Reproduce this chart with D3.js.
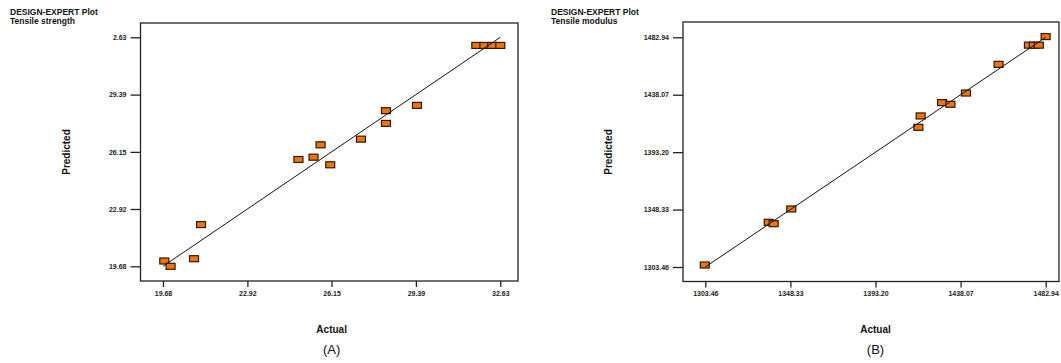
<!DOCTYPE html>
<html>
<head>
<meta charset="utf-8">
<script src="https://cdn.jsdelivr.net/npm/d3@7"></script>
<style>
  body { margin: 0; background: #fff; }
  svg { display: block; font-family: "Liberation Sans", Arial, sans-serif; }
</style>
</head>
<body>
<div id="chart"></div>
<script>
// Panel A - tensile strength
var strengthTicks = [19.68, 22.92, 26.15, 29.39, 32.63];
var strengthTickLabelsY = ["19.68", "22.92", "26.15", "29.39", "2.63"];
var strengthActual = [19.73, 19.97, 20.87, 21.14, 24.88, 25.46, 25.73, 26.10, 27.28, 28.24, 28.24, 29.43, 31.71, 32.02, 32.32, 32.63];
var strengthPredicted = [19.98, 19.68, 20.11, 22.04, 25.72, 25.85, 26.55, 25.42, 26.87, 27.76, 28.48, 28.78, 32.17, 32.17, 32.17, 32.17];

// Panel B - tensile modulus
var modulusTicks = [1303.46, 1348.33, 1393.20, 1438.07, 1482.94];
var modulusTickLabelsY = ["1303.46", "1348.33", "1393.20", "1438.07", "1482.94"];
var modulusActual = [1303.2, 1336.9, 1339.5, 1348.8, 1415.8, 1417.0, 1428.3, 1432.7, 1440.9, 1458.1, 1474.1, 1476.7, 1479.3, 1482.9];
var modulusPredicted = [1305.0, 1338.4, 1337.3, 1348.8, 1412.6, 1421.5, 1431.9, 1430.6, 1439.4, 1461.8, 1476.8, 1476.8, 1476.8, 1483.5];

var svg = d3.select("#chart").append("svg")
    .attr("width", 1061)
    .attr("height", 363);

function drawPanel(p) {
    var g = svg.append("g");

    var xScale = d3.scaleLinear().domain(p.domain).range(p.xRange);
    var yScale = d3.scaleLinear().domain(p.domain).range(p.yRange);

    // header
    g.append("text").attr("x", p.headX).attr("y", 15)
        .attr("font-size", "8.5px").attr("font-weight", "bold").attr("fill", "#111")
        .text("DESIGN-EXPERT Plot");
    g.append("text").attr("x", p.headX).attr("y", 24)
        .attr("font-size", "8.5px").attr("font-weight", "bold").attr("fill", "#111")
        .text(p.response);

    // frame
    g.append("rect")
        .attr("x", p.frame[0]).attr("y", p.frame[1])
        .attr("width", p.frame[2] - p.frame[0])
        .attr("height", p.frame[3] - p.frame[1])
        .attr("fill", "none").attr("stroke", "#222").attr("stroke-width", 1.3);

    // x axis
    var xAxis = d3.axisBottom(xScale)
        .tickValues(p.ticks)
        .tickSize(6).tickPadding(4)
        .tickFormat(d3.format(".2f"));
    var gx = g.append("g")
        .attr("transform", "translate(0," + p.frame[3] + ")")
        .call(xAxis);
    gx.select(".domain").remove();

    // y axis
    var yAxis = d3.axisLeft(yScale)
        .tickValues(p.ticks)
        .tickSize(10).tickPadding(4)
        .tickFormat(function(d, i) { return p.yLabels[i]; });
    var gy = g.append("g")
        .attr("transform", "translate(" + p.frame[0] + ",0)")
        .call(yAxis);
    gy.select(".domain").remove();

    g.selectAll(".tick line").attr("stroke", "#222").attr("stroke-width", 1.3);
    g.selectAll(".tick text")
        .attr("font-family", "Liberation Sans, Arial, sans-serif")
        .attr("font-size", "7px").attr("font-weight", "bold").attr("fill", "#222");

    // points
    var pts = p.actual.map(function(a, i) { return {a: a, b: p.predicted[i]}; });
    g.append("g").selectAll("rect")
        .data(pts)
        .enter()
        .append("rect")
            .attr("x", function(d) { return xScale(d.a) - 4.5; })
            .attr("y", function(d) { return yScale(d.b) - 3; })
            .attr("width", 9)
            .attr("height", 6)
            .attr("fill", "#f27405")
            .attr("stroke", "#2a1a0a")
            .attr("stroke-width", 1.2);

    // y = x line
    g.append("line")
        .attr("x1", xScale(p.domain[0])).attr("y1", yScale(p.domain[0]))
        .attr("x2", xScale(p.domain[1])).attr("y2", yScale(p.domain[1]))
        .attr("stroke", "#111").attr("stroke-width", 1);

    // axis titles
    var cx = (p.frame[0] + p.frame[2]) / 2;
    g.append("text").attr("x", p.xRange[0] + (p.xRange[1] - p.xRange[0]) / 2).attr("y", 333)
        .attr("text-anchor", "middle").attr("font-size", "10px").attr("font-weight", "bold")
        .attr("fill", "#111").text("Actual");
    g.append("text").attr("x", p.xRange[0] + (p.xRange[1] - p.xRange[0]) / 2).attr("y", 354)
        .attr("text-anchor", "middle").attr("font-size", "13px")
        .attr("fill", "#111").text(p.tag);
    g.append("text")
        .attr("transform", "translate(" + p.predX + ",152) rotate(-90)")
        .attr("text-anchor", "middle").attr("font-size", "10px").attr("font-weight", "bold")
        .attr("fill", "#111").text("Predicted");
}

drawPanel({
    domain: [19.68, 32.63],
    ticks: strengthTicks,
    yLabels: strengthTickLabelsY,
    actual: strengthActual,
    predicted: strengthPredicted,
    xRange: [163, 500.3],
    yRange: [266.3, 37.3],
    frame: [140.5, 23, 518, 281],
    headX: 10,
    response: "Tensile strength",
    predX: 70,
    tag: "(A)"
});

drawPanel({
    domain: [1303.46, 1482.94],
    ticks: modulusTicks,
    yLabels: modulusTickLabelsY,
    actual: modulusActual,
    predicted: modulusPredicted,
    xRange: [705.3, 1045.7],
    yRange: [267, 37.3],
    frame: [683, 22, 1059, 281.5],
    headX: 551,
    response: "Tensile modulus",
    predX: 612,
    tag: "(B)"
});
</script>
</body>
</html>
